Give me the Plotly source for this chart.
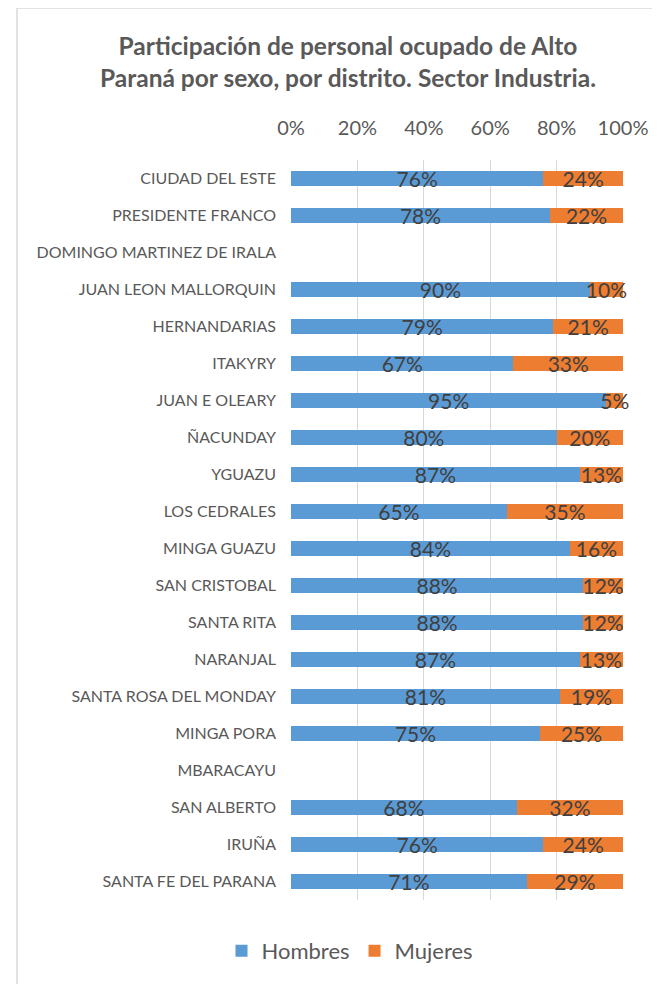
import plotly.graph_objects as go

districts = [
    "CIUDAD DEL ESTE", "PRESIDENTE FRANCO", "DOMINGO MARTINEZ DE IRALA",
    "JUAN LEON MALLORQUIN", "HERNANDARIAS", "ITAKYRY", "JUAN E OLEARY",
    "ÑACUNDAY", "YGUAZU", "LOS CEDRALES", "MINGA GUAZU", "SAN CRISTOBAL",
    "SANTA RITA", "NARANJAL", "SANTA ROSA DEL MONDAY", "MINGA PORA",
    "MBARACAYU", "SAN ALBERTO", "IRUÑA", "SANTA FE DEL PARANA",
]
hombres = [76, 78, None, 90, 79, 67, 95, 80, 87, 65, 84, 88, 88, 87, 81, 75, None, 68, 76, 71]
mujeres = [24, 22, None, 10, 21, 33, 5, 20, 13, 35, 16, 12, 12, 13, 19, 25, None, 32, 24, 29]
tick_vals = [0, 20, 40, 60, 80, 100]
tick_text = ["0%", "20%", "40%", "60%", "80%", "100%"]

FONT = "Lato"
GRAY = "#595959"
OFF = 8  # default page body margin

def labels(vals):
    return [f"{v}%" if v is not None else "" for v in vals]

fig = go.Figure()
for name, vals, color in [("Hombres", hombres, "#5B9BD5"), ("Mujeres", mujeres, "#ED7D31")]:
    fig.add_trace(go.Bar(
        y=districts, x=vals, name=name, orientation="h",
        marker=dict(color=color, line=dict(width=0)),
        text=labels(vals), textposition="inside", insidetextanchor="middle",
        constraintext="none", textangle=0, cliponaxis=False,
        textfont=dict(family=FONT, size=21, color="#404040"),
        hoverinfo="skip",
    ))

W, H = 660 - OFF, 984 - OFF
L, R, T, B = 291 - OFF, 37, 160 - OFF, 84
pw, ph = W - L - R, H - T - B

def px(x):
    return (x - OFF - L) / pw

def py(y):
    return (H - B - (y - OFF)) / ph

fig.update_layout(
    width=W, height=H,
    barmode="stack", bargap=0.59,
    margin=dict(l=L, r=R, t=T, b=B, autoexpand=False),
    paper_bgcolor="white", plot_bgcolor="white",
    title=dict(
        text="Participación de personal ocupado de Alto<br>Paraná por sexo, por distrito. Sector Industria.",
        font=dict(family=FONT, size=24.5, color=GRAY, weight="bold"),
        x=(348 - OFF) / W, xanchor="center", y=1 - (55 - OFF) / H, yanchor="top",
    ),
    xaxis=dict(
        side="top", range=[0, 100], tickvals=tick_vals, ticktext=tick_text,
        showgrid=True, gridcolor="#d9d9d9", gridwidth=1, zeroline=False,
        showline=False, ticks="", ticklabelstandoff=20,
        tickfont=dict(family=FONT, size=20, color=GRAY), fixedrange=True,
    ),
    yaxis=dict(
        autorange="reversed", showgrid=False, showline=False, ticks="",
        ticklabelstandoff=14,
        tickfont=dict(family=FONT, size=16, color=GRAY), fixedrange=True,
    ),
    legend=dict(
        orientation="h", x=px(350), xanchor="center", y=py(951), yanchor="middle",
        font=dict(family=FONT, size=22, color=GRAY), traceorder="normal",
        itemclick=False, itemdoubleclick=False,
    ),
    shapes=[dict(
        type="rect", xref="paper", yref="paper",
        x0=px(17), x1=px(720), y0=py(1010), y1=py(8),
        line=dict(color="#d9d9d9", width=1.5), fillcolor="rgba(0,0,0,0)", layer="below",
    )],
    showlegend=True,
)

fig.write_html("out.html")
